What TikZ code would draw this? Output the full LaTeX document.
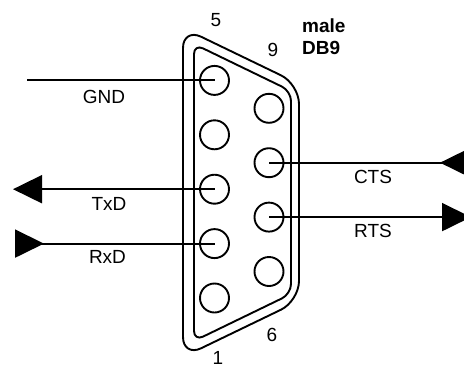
\documentclass[tikz,border=0pt]{standalone}
\usepackage{fontspec}
\setmainfont{Liberation Sans}
\usepackage{tikz}
\usetikzlibrary{
	arrows.meta,
	positioning
}
\tikzset{
	big/.tip={Triangle[length=29pt, width=28pt]},
	bigr/.tip={Triangle[length=29pt, width=28pt, reversed]}
}

\begin{document}
\begin{tikzpicture}[x=1pt, y=-1pt,
		pin/.style={circle, draw, line width=1.9pt, minimum size=29pt, inner sep=0pt},
		shell/.style={line width=1.9pt},
		sig/.style={line width=1.9pt},
		lbl/.style={font=\fontsize{19}{22}\selectfont, inner sep=0pt},
		num/.style={font=\fontsize{19}{22}\selectfont, inner sep=0pt}
	]
				\def\lx{214.5}
				\def\rx{269}
				\def\dy{54.4}

				\useasboundingbox (0, 0) rectangle (464, 365) ;

				% shell of the connector
				\draw[shell, rounded corners=20] (183, 190) -- (183, 28) -- (299, 84) -- (299, 301) -- (183, 357) -- cycle ;
				\draw[shell, rounded corners=10] (194, 190) -- (194, 44) -- (291, 91) -- (291, 294) -- (194, 341) -- cycle ;

				% pins
				\foreach \n in {1, ..., 5}
					\node[pin] (p\n) at (\lx, 298 - \n*\dy + \dy) {} ;
				\foreach \n in {6, ..., 9}
					\node[pin] (p\n) at (\rx, 271.5 - \n*\dy + 6*\dy) {} ;

				\node[num] (n5) at (216, 20) {5} ;
				\node[num] (n9) at (273, 50) {9} ;
				\node[num] (n1) at (218, 358) {1} ;
				\node[num] (n6) at (272, 335) {6} ;
				\node[lbl, font=\fontsize{19}{22}\selectfont\bfseries, align=left, anchor=north west] (title) at (302, 19) {male\\DB9} ;

				% signal lines
				\coordinate (gnd) at (27, 0 |- p5) ;
				\coordinate (txd) at (13, 0 |- p3) ;
				\coordinate (rxd) at (15, 0 |- p2) ;
				\coordinate (cts) at (469, 0 |- p8) ;
				\coordinate (rts) at (471, 0 |- p7) ;

				\draw[sig] (gnd) -- (p5.center) ;
				\draw[sig, -big] (p3.center) -- (txd) ;
				\draw[sig, bigr-] (rxd) -- (p2.center) ;
				\draw[sig, -bigr] (p8.center) -- (cts) ;
				\draw[sig, -big] (p7.center) -- (rts) ;

				\node[lbl] (gndl) at (104, 96.5) {GND} ;
				\node[lbl] (txdl) at (109, 204) {TxD} ;
				\node[lbl] (rxdl) at (107.5, 256.5) {RxD} ;
				\node[lbl] (ctsl) at (373, 176.5) {CTS} ;
				\node[lbl] (rtsl) at (373, 231) {RTS} ;
			\end{tikzpicture}
\end{document}
